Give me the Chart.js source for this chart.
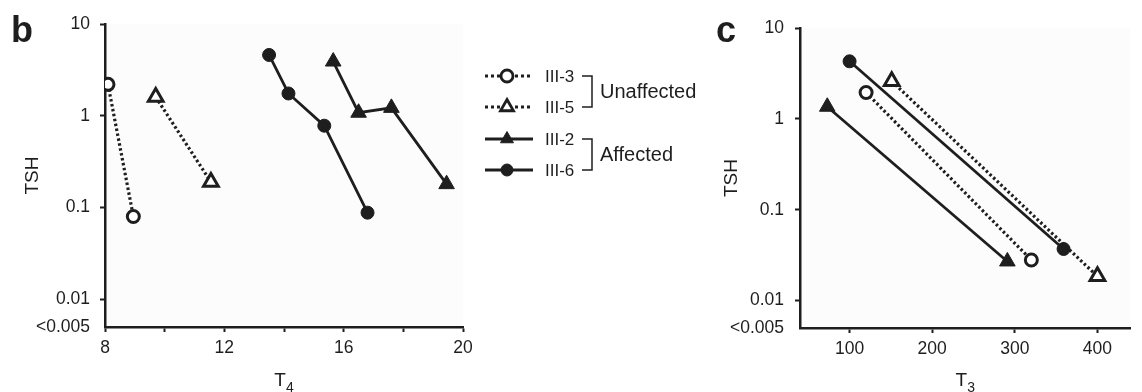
<!DOCTYPE html>
<html>
<head>
<meta charset="utf-8">
<script src="https://cdn.jsdelivr.net/npm/chart.js@4"></script>
<style>
  html, body { margin: 0; padding: 0; background: #fff; width: 1142px; height: 392px; overflow: hidden; }
  #wrapB { position: absolute; left: 0; top: 0; width: 712px; height: 392px; }
  #wrapC { position: absolute; left: 712px; top: 0; width: 430px; height: 392px; }
</style>
</head>
<body>
<div id="wrapB"><canvas id="chartB"></canvas></div>
<div id="wrapC"><canvas id="chartC"></canvas></div>
<script>
// Series names and legend groups
const seriesNames = ['III-3', 'III-5', 'III-2', 'III-6'];
const groupNames = ['Unaffected', 'Affected'];

// Panel b: TSH against T4
const t4_III3 = [8.1, 8.95];
const tshB_III3 = [2.2, 0.08];
const t4_III5 = [9.7, 11.55];
const tshB_III5 = [1.6, 0.19];
const t4_III2 = [15.65, 16.5, 17.6, 19.45];
const tshB_III2 = [3.9, 1.08, 1.22, 0.18];
const t4_III6 = [13.5, 14.15, 15.35, 16.8];
const tshB_III6 = [4.6, 1.75, 0.78, 0.088];

// Panel c: TSH against T3
const t3_III3 = [120, 320];
const tshC_III3 = [1.95, 0.028];
const t3_III5 = [151, 400];
const tshC_III5 = [2.6, 0.0185];
const t3_III2 = [73, 291];
const tshC_III2 = [1.36, 0.027];
const t3_III6 = [100, 359];
const tshC_III6 = [4.3, 0.037];

// Axis ticks
const yTickValues = [0.005, 0.01, 0.1, 1, 10];
const yTickLabels = ['<0.005', '0.01', '0.1', '1', '10'];
const xTicksB = [8, 12, 16, 20];
const xTicksC = [100, 200, 300, 400];

const INK = '#1e1e1e';
const FONT = "'Liberation Sans', Arial, sans-serif";

const pts = (xs, ys) => xs.map((x, i) => ({ x: x, y: ys[i] }));

// dataset look per series
const looks = {
  'III-3': { shape: 'circle', filled: false, dotted: true, r: 6 },
  'III-5': { shape: 'triangle', filled: false, dotted: true, r: 8.5 },
  'III-2': { shape: 'triangle', filled: true, dotted: false, r: 9 },
  'III-6': { shape: 'circle', filled: true, dotted: false, r: 6.5 }
};

const makeDataset = (name, xs, ys) => {
  const lk = looks[name];
  return {
    label: name,
    data: pts(xs, ys),
    showLine: true,
    borderColor: INK,
    borderWidth: lk.dotted ? 3.2 : 2.8,
    borderDash: lk.dotted ? [2.5, 2.5] : [],
    pointStyle: lk.shape,
    pointRadius: lk.r,
    pointBorderWidth: lk.filled ? 1 : 3,
    pointBorderColor: INK,
    pointBackgroundColor: lk.filled ? INK : '#fff'
  };
};

// little helper for legend glyphs
const drawGlyph = (ctx, shape, filled, x, y, r) => {
  ctx.beginPath();
  if (shape === 'circle') {
    ctx.arc(x, y, r, 0, Math.PI * 2);
  } else {
    ctx.moveTo(x, y - r);
    ctx.lineTo(x + r * 0.866, y + r * 0.5);
    ctx.lineTo(x - r * 0.866, y + r * 0.5);
    ctx.closePath();
  }
  ctx.fillStyle = filled ? INK : '#fff';
  ctx.fill();
  ctx.lineWidth = filled ? 1 : 2.8;
  ctx.strokeStyle = INK;
  ctx.stroke();
};

const panelPlugin = {
  id: 'panelExtras',
  beforeDraw(chart, args, opts) {
    const { ctx, chartArea } = chart;
    ctx.save();
    ctx.fillStyle = '#fcfcfc';
    ctx.fillRect(chartArea.left, chartArea.top, chartArea.right - chartArea.left, chartArea.bottom - chartArea.top);
    ctx.restore();
  },
  afterDraw(chart, args, opts) {
    const { ctx, chartArea } = chart;
    ctx.save();
    // panel letter
    ctx.fillStyle = INK;
    ctx.font = 'bold 36px ' + FONT;
    ctx.textBaseline = 'alphabetic';
    ctx.textAlign = 'left';
    ctx.fillText(opts.letter, opts.letterX, 42);

    // x axis title with subscript
    const cx = (chartArea.left + chartArea.right) / 2;
    ctx.font = '19px ' + FONT;
    const wT = ctx.measureText('T').width;
    ctx.font = '14px ' + FONT;
    const wS = ctx.measureText(opts.sub).width;
    const x0 = cx - (wT + wS) / 2;
    ctx.font = '19px ' + FONT;
    ctx.fillText('T', x0, 386);
    ctx.font = '14px ' + FONT;
    ctx.fillText(opts.sub, x0 + wT, 392);

    // legend (panel b only)
    if (opts.legend) {
      const rowY = [76, 107, 139, 170];
      seriesNames.forEach((name, i) => {
        const lk = looks[name];
        const y = rowY[i];
        ctx.save();
        ctx.strokeStyle = INK;
        ctx.lineWidth = 3.2;
        ctx.setLineDash(lk.dotted ? [3, 3] : []);
        ctx.beginPath();
        ctx.moveTo(485, y);
        ctx.lineTo(533, y);
        ctx.stroke();
        ctx.setLineDash([]);
        drawGlyph(ctx, lk.shape, lk.filled, 507, y, lk.shape === 'circle' ? 6 : 7.5);
        ctx.restore();
        ctx.fillStyle = INK;
        ctx.font = '17px ' + FONT;
        ctx.textBaseline = 'middle';
        ctx.fillText(name, 545, y + 1);
      });
      // brackets
      ctx.strokeStyle = INK;
      ctx.lineWidth = 1.5;
      [[76, 107], [139, 170]].forEach(([a, b], g) => {
        ctx.beginPath();
        ctx.moveTo(582, a);
        ctx.lineTo(592, a);
        ctx.lineTo(592, b);
        ctx.lineTo(582, b);
        ctx.stroke();
        ctx.font = '20px ' + FONT;
        ctx.textBaseline = 'middle';
        ctx.fillText(groupNames[g], 600, (a + b) / 2 + 1);
      });
    }
    ctx.restore();
  }
};

const gridCfg = {
  display: true,
  drawOnChartArea: false,
  drawTicks: true,
  tickLength: 5,
  tickWidth: 2,
  tickColor: (c) => (c.tick && c.tick.value === 0.005 ? 'rgba(0,0,0,0)' : INK)
};

const yAxis = (width, titlePad, labelPad) => ({
  type: 'logarithmic',
  min: 0.005,
  max: 10,
  afterBuildTicks: (axis) => { axis.ticks = yTickValues.map(v => ({ value: v })); },
  afterFit: (axis) => { axis.width = width; },
  grid: gridCfg,
  border: { display: true, color: INK, width: 2.5 },
  ticks: {
    autoSkip: false,
    color: INK,
    padding: labelPad,
    font: { family: FONT, size: 17.5 },
    callback: (v) => yTickLabels[yTickValues.indexOf(v)]
  },
  title: {
    display: true,
    text: 'TSH',
    color: INK,
    font: { family: FONT, size: 19 },
    padding: { top: titlePad, bottom: 0 }
  }
});

const xAxis = (min, max, keep, height) => ({
  type: 'linear',
  min: min,
  max: max,
  afterBuildTicks: (axis) => {
    const step = keep[1] - keep[0];
    if (keep[0] === min) {
      const all = [];
      for (let v = min; v <= max; v += step / 2) all.push(v);
      axis.ticks = all.map(v => ({ value: v }));
    } else {
      axis.ticks = keep.map(v => ({ value: v }));
    }
  },
  afterFit: (axis) => { axis.height = height; },
  grid: gridCfg,
  border: { display: true, color: INK, width: 2.5 },
  ticks: {
    autoSkip: false,
    maxRotation: 0,
    color: INK,
    padding: 6,
    font: { family: FONT, size: 17.5 },
    callback: (v) => (keep.includes(v) ? String(v) : '')
  }
});

const baseOptions = {
  responsive: true,
  maintainAspectRatio: false,
  animation: false,
  plugins: { legend: { display: false }, tooltip: { enabled: false } }
};

Chart.defaults.font.family = FONT;

new Chart(document.getElementById('chartB'), {
  type: 'scatter',
  data: {
    datasets: [
      makeDataset('III-3', t4_III3, tshB_III3),
      makeDataset('III-5', t4_III5, tshB_III5),
      makeDataset('III-2', t4_III2, tshB_III2),
      makeDataset('III-6', t4_III6, tshB_III6)
    ]
  },
  options: Object.assign({}, baseOptions, {
    layout: { padding: { top: 24, right: 249, bottom: 0, left: 0 } },
    scales: { x: xAxis(8, 20, xTicksB, 65), y: yAxis(105, 21, 10) },
    plugins: Object.assign({}, baseOptions.plugins, {
      panelExtras: { letter: 'b', letterX: 11, sub: '4', legend: true }
    })
  }),
  plugins: [panelPlugin]
});

new Chart(document.getElementById('chartC'), {
  type: 'scatter',
  data: {
    datasets: [
      makeDataset('III-3', t3_III3, tshC_III3),
      makeDataset('III-5', t3_III5, tshC_III5),
      makeDataset('III-2', t3_III2, tshC_III2),
      makeDataset('III-6', t3_III6, tshC_III6)
    ]
  },
  options: Object.assign({}, baseOptions, {
    layout: { padding: { top: 28, right: 2, bottom: 0, left: 0 } },
    scales: { x: xAxis(40, 440, xTicksC, 64), y: yAxis(88, 8, 11) },
    plugins: Object.assign({}, baseOptions.plugins, {
      panelExtras: { letter: 'c', letterX: 4, sub: '3', legend: false }
    })
  }),
  plugins: [panelPlugin]
});
</script>
</body>
</html>
